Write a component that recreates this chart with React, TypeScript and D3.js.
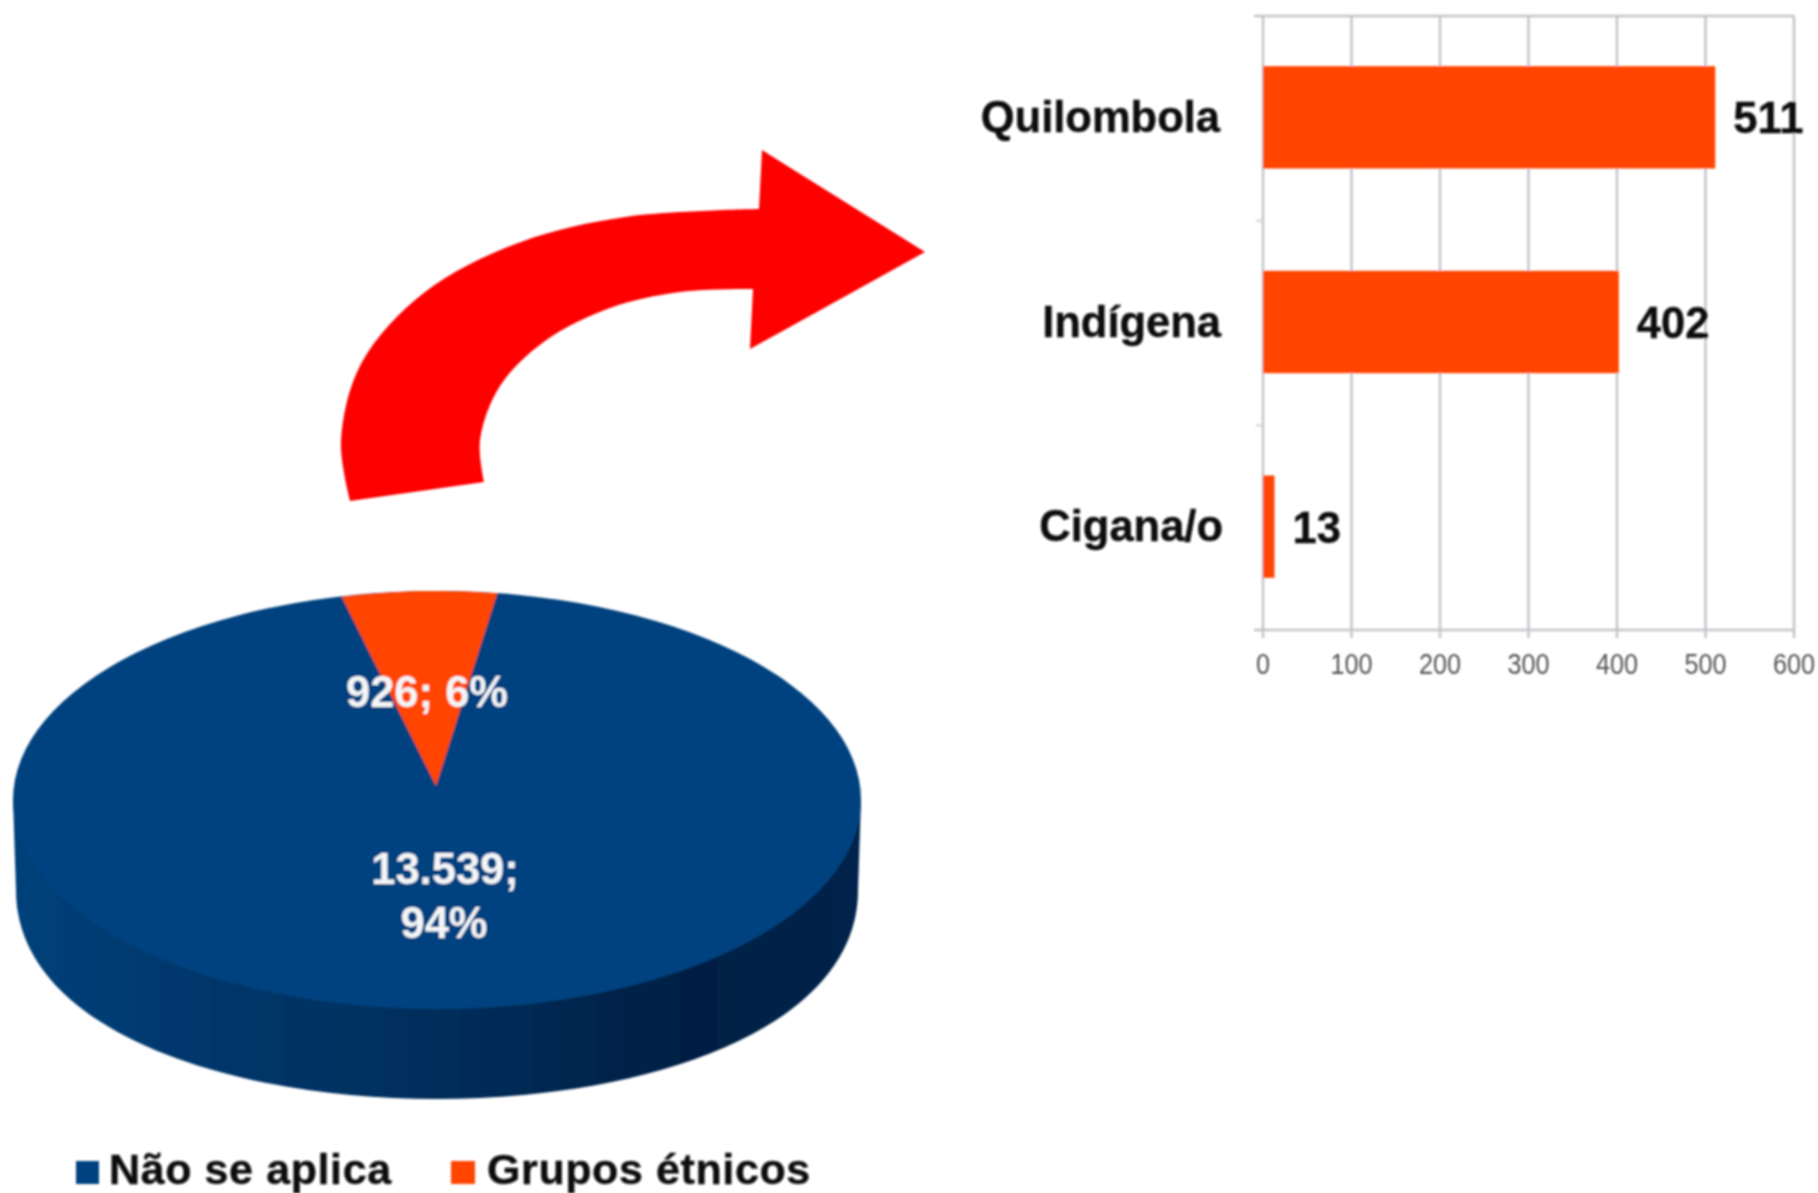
import React from "react";
import * as d3 from "d3";

const W = 1818, H = 1193;

// ---------- data ----------
const barCategories = ["Quilombola", "Indígena", "Cigana/o"];
const barValues = [511, 402, 13];
const barTicks = [0, 100, 200, 300, 400, 500, 600];
const pieNames = ["Grupos étnicos", "Não se aplica"];
const pieValues = [926, 13539];
const pieLabels = [["926; 6%"], ["13.539;", "94%"]];
const legendNames = ["Não se aplica", "Grupos étnicos"];

// ---------- annotation arrow outline ----------
const arrowOuter: [number, number][] = [[350, 501], [341, 440], [362, 362], [425, 292], [518, 243], [625, 217], [759, 209]];
const arrowHead: [number, number][] = [[762, 150], [925, 252], [750, 349], [753, 289]];
const arrowInner: [number, number][] = [[753, 289], [680, 292], [610, 308], [545, 341], [500, 386], [480, 440], [484, 482]];

const BLUE = "#03437f", ORANGE = "#ff4500", FONT = "'Liberation Sans', Arial, sans-serif";

export default function App() {
  // bar chart
  const x = d3.scaleLinear().domain([0, 600]).range([1263, 1794]);
  const y = d3.scaleBand<string>().domain(barCategories).range([15, 629]).paddingInner(0.5).paddingOuter(0.25);
  const yEdges = d3.range(0, barCategories.length + 1).map(i => 16 + (i * (630 - 16)) / barCategories.length);
  const labelAnchor = [1220, 1221, 1223];

  // pie
  const cx = 437, cy = 800, rx = 424, ry = 209, depth = 90;
  const wedgeCy = 786, wedgeRx = 390, wedgeRy = 195;
  const start = (-14 * Math.PI) / 180;
  const pie = d3.pie<number>().sort(null).startAngle(start).endAngle(start + 2 * Math.PI)(pieValues);
  const arc = d3.arc<d3.PieArcDatum<number>>().innerRadius(0).outerRadius(1);
  const sidePath = d3.path();
  sidePath.moveTo(cx - rx, cy);
  sidePath.lineTo(cx - rx + 3, cy + depth);
  sidePath.bezierCurveTo(cx - rx + 3, cy + depth + ry * 1.333, cx + rx - 3, cy + depth + ry * 1.333, cx + rx - 3, cy + depth);
  sidePath.lineTo(cx + rx, cy);
  sidePath.closePath();

  // arrow
  const curve = d3.line().curve(d3.curveCatmullRom.alpha(0.5));
  const arrowD =
    (curve(arrowOuter) as string) +
    "L" + arrowHead.map(p => p.join(",")).join("L") +
    (curve(arrowInner) as string).replace(/^M/, "L") + "Z";

  return (
    <svg width={W} height={H} viewBox={`0 0 ${W} ${H}`} style={{ position: "absolute", left: 0, top: 0, background: "#fff" }} fontFamily={FONT}>
      <defs>
        <linearGradient id="side" x1="0" x2="1" y1="0" y2="0">
          <stop offset="0" stopColor="#04417a" />
          <stop offset="0.25" stopColor="#03366a" />
          <stop offset="0.55" stopColor="#032c58" />
          <stop offset="0.8" stopColor="#011f44" />
          <stop offset="1" stopColor="#01244c" />
        </linearGradient>
        <filter id="soft" x="-2%" y="-2%" width="104%" height="104%">
          <feGaussianBlur stdDeviation="0.8" />
        </filter>
      </defs>
      <g filter="url(#soft)">
        {/* bar chart grid */}
        <g stroke="#c2c4c8" strokeWidth={2.5} fill="none">
          {barTicks.map(t => (
            <line key={t} x1={x(t)} x2={x(t)} y1={16} y2={638} />
          ))}
          <line x1={1254} x2={x(600)} y1={16} y2={16} />
          <line x1={1254} x2={x(600)} y1={630} y2={630} />
          {yEdges.slice(1, -1).map(e => (
            <line key={e} x1={1256} x2={x(0)} y1={e} y2={e} strokeWidth={2} stroke="#d4d4d4" />
          ))}
        </g>
        {barCategories.map((c, i) => (
          <g key={c}>
            <rect x={x(0)} y={y(c)} width={x(barValues[i]) - x(0)} height={y.bandwidth()} fill={ORANGE} />
            <text x={labelAnchor[i]} y={(y(c) as number) + y.bandwidth() / 2 + 14.5} textAnchor="end" fontSize={43.5} fontWeight={700} fill="#111" stroke="#111" strokeWidth={0.4}>{c}</text>
            <text x={x(barValues[i]) + 18} y={(y(c) as number) + y.bandwidth() / 2 + 16} fontSize={43.5} fontWeight={700} fill="#111" stroke="#111" strokeWidth={0.4}>{barValues[i]}</text>
          </g>
        ))}
        {barTicks.map(t => (
          <text key={t} transform={`translate(${x(t)},674) scale(0.87,1)`} textAnchor="middle" fontSize={29} fill="#555">{t}</text>
        ))}

        {/* arrow */}
        <path d={arrowD} fill="#fe0000" />

        {/* 3D pie */}
        <path d={sidePath.toString()} fill="url(#side)" />
        <ellipse cx={cx} cy={cy} rx={rx} ry={ry} fill={BLUE} />
        <g transform={`translate(${cx - 1},${wedgeCy}) scale(${wedgeRx},${wedgeRy})`}>
          <path d={arc(pie[0]) as string} fill={ORANGE} />
        </g>
        <g fill="#f4f6f8" fontSize={43.5} fontWeight={700} textAnchor="middle">
          <text x={427} y={707}>{pieLabels[0][0]}</text>
          <text x={445} y={884}>{pieLabels[1][0]}</text>
          <text x={444} y={938}>{pieLabels[1][1]}</text>
        </g>

        {/* legend */}
        <g fontSize={43} fontWeight={700} fill="#111" stroke="#111" strokeWidth={0.4}>
          <rect x={76} y={1161} width={23} height={23} fill={BLUE} stroke="none" />
          <text x={109} y={1184} letterSpacing={0.6}>{legendNames[0]}</text>
          <rect x={451} y={1161} width={24} height={23} fill={ORANGE} stroke="none" />
          <text x={487} y={1184} letterSpacing={0.6}>{legendNames[1]}</text>
        </g>
      </g>
    </svg>
  );
}
